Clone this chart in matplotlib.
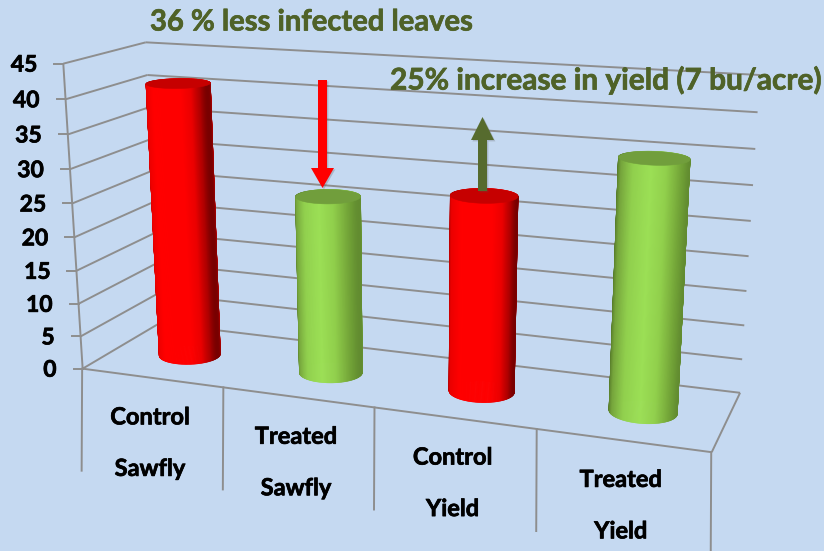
import numpy as np
import matplotlib
matplotlib.use("Agg")
import matplotlib.pyplot as plt
import matplotlib.patheffects as pe
from matplotlib.collections import PolyCollection
from matplotlib.patches import FancyArrow, Polygon

# ---- data ----
labels_top = ["Control", "Treated", "Control", "Treated"]
labels_bottom = ["Sawfly", "Sawfly", "Yield", "Yield"]
values = [41.2, 26.4, 28.4, 35.3]
bar_kind = ["red", "green", "red", "green"]
y_ticks = [0, 5, 10, 15, 20, 25, 30, 35, 40, 45]
note_left = "36 % less infected leaves"
note_right = "25% increase in yield (7 bu/acre)"

BG = "#C5D9F1"
GRID = "#8E8E8E"
OLIVE = "#4F6228"
FONT = "Lato"
VMAX = 45

# ---- perspective camera calibrated on the chart box (x category, depth, value -> pixel) ----
world = [(0,0,0),(0,0,45),(0,1,0),(0,1,45),(4,1,0),(4,1,45),(4,0,0)]
pix = [(82,369),(64,63.5),(160,323),(145,42.5),(740,393),(760,75),(711.7,452)]
A, b = [], []
for (X,Y,Z),(u,v) in zip(world,pix):
    A.append([X,Y,Z,1,0,0,0,0,-u*X,-u*Y,-u*Z]); b.append(u)
    A.append([0,0,0,0,X,Y,Z,1,-v*X,-v*Y,-v*Z]); b.append(v)
P = np.append(np.linalg.lstsq(np.array(A,float),np.array(b,float),rcond=None)[0],1).reshape(3,4)

def proj(x, d, v):
    x, d, v = np.broadcast_arrays(np.asarray(x,float), np.asarray(d,float), np.asarray(v,float))
    h = np.stack([x,d,v,np.ones_like(x)],-1) @ P.T
    return h[...,0]/h[...,2], h[...,1]/h[...,2]

fig = plt.figure(figsize=(8.24,5.51), dpi=100, facecolor=BG)
ax = fig.add_axes([0,0,1,1])
ax.set_xlim(0,824); ax.set_ylim(551,0); ax.axis("off")

lw = 1.4
def line(a,b,z=2,lw=lw):
    xs,ys = proj([a[0],b[0]],[a[1],b[1]],[a[2],b[2]])
    ax.plot(xs,ys,color=GRID,lw=lw,zorder=z,solid_capstyle="butt")

def bold_text(x,y,s,size,color,ha="center"):
    ax.text(x,y,s,ha=ha,va="center",fontsize=size,fontweight="bold",family=FONT,color=color,zorder=7,
            path_effects=[pe.withStroke(linewidth=0.5,foreground=color)])

# walls, gridlines and ticks
for t in y_ticks:
    line((0,0,t),(0,1,t)); line((0,1,t),(4,1,t))
    xt,yt = proj(0,0,t)
    ax.plot([xt-9,xt],[yt,yt],color=GRID,lw=lw,zorder=2)
    bold_text(xt-26,yt+1.5,str(t),16.5,"black",ha="right")
line((0,0,0),(0,0,VMAX))
line((0,0,0),(4,0,0)); line((4,0,0),(4,1,0))

# category dividers and labels
drop = 102
for i in range(5):
    xd,yd = proj(i,0,0)
    ax.plot([xd-0.5,xd-1],[yd,yd+drop],color=GRID,lw=lw,zorder=2)
for i,(a,c) in enumerate(zip(labels_top,labels_bottom)):
    xl,yl = proj(i+0.5,0,0)
    bold_text(xl-2,yl+39,a,17,"black")
    bold_text(xl-2,yl+90.5,c,17,"black")

# cylinders
RX, RD = 0.2, 0.19
shade_u = [-1,-0.8,-0.4,0.1,0.5,0.75,0.92,1]
styles = {
 "red":  dict(side=np.array([[170,0,0],[235,0,0],[255,0,0],[255,0,0],[255,0,0],[235,0,0],[175,0,0],[120,0,0]])/255, top="#C60000"),
 "green":dict(side=np.array([[82,118,40],[118,165,60],[145,208,78],[156,224,86],[145,208,76],[125,178,62],[108,155,52],[98,140,48]])/255, top="#719E3C"),
}
theta = np.linspace(0,2*np.pi,241)
for i,(val,kind) in enumerate(zip(values,bar_kind)):
    cx, cd = i+0.512, 0.48
    s = styles[kind]
    polys,cols = [],[]
    for a,b in sorted(zip(theta[:-1],theta[1:]),key=lambda p:-np.sin((p[0]+p[1])/2)):
        m=(a+b)/2
        xs0,ys0=proj(cx+RX*np.cos([a,b]),cd+RD*np.sin([a,b]),0)
        xs1,ys1=proj(cx+RX*np.cos([a,b]),cd+RD*np.sin([a,b]),val)
        polys.append(np.column_stack([[xs0[0],xs0[1],xs1[1],xs1[0]],[ys0[0],ys0[1],ys1[1],ys1[0]]]))
        cols.append([np.interp(np.cos(m),shade_u,s["side"][:,k]) for k in range(3)])
    ax.add_collection(PolyCollection(polys,facecolors=cols,edgecolors=cols,linewidths=0.5,zorder=3+i*0.01))
    xt,yt=proj(cx+RX*np.cos(theta),cd+RD*np.sin(theta),val)
    ax.add_patch(Polygon(np.column_stack([xt,yt]),closed=True,fc=s["top"],ec=s["top"],lw=0.4,zorder=3.005+i*0.01))

# arrows
shadow = [pe.SimplePatchShadow(offset=(1,-1),shadow_rgbFace="#555555",alpha=0.25),pe.Normal()]
ax.add_patch(FancyArrow(322.5,80,0,108,width=9,head_width=23,head_length=20,length_includes_head=True,fc="#FF0000",ec="none",zorder=4,path_effects=shadow))
ax.add_patch(FancyArrow(482.5,191,0,-74,width=9,head_width=23,head_length=23,length_includes_head=True,fc="#566B2E",ec="none",zorder=4,path_effects=shadow))

# notes
bold_text(150,22.5,note_left,21,OLIVE,ha="left")
bold_text(390,80,note_right,21.5,OLIVE,ha="left")

fig.savefig("out.png",dpi=100,facecolor=BG)
